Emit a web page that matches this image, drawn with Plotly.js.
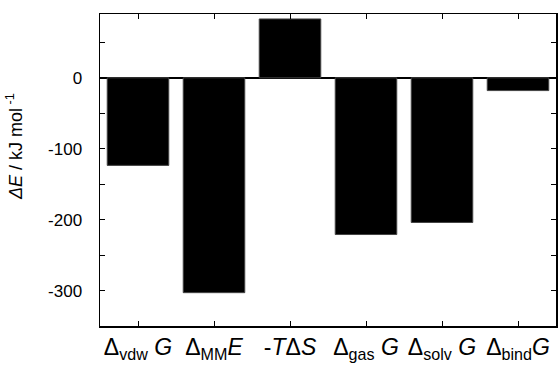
<!DOCTYPE html>
<html><head><meta charset="utf-8">
<script src="https://cdn.plot.ly/plotly-3.0.1.min.js"></script>
<style>html,body{margin:0;padding:0;background:#fff}#chart{width:558px;height:376px}</style>
</head><body><div id="chart"></div>
<script>
const categories = ["vdwG", "MME", "TdS", "gasG", "solvG", "bindG"];
const tickLabels = [
  "Δ<sub>vdw</sub> <i>G</i>",
  "Δ<sub>MM</sub><i>E</i>",
  "-<i>T</i>Δ<i>S</i>",
  "Δ<sub>gas</sub> <i>G</i>",
  "Δ<sub>solv</sub> <i>G</i>",
  "Δ<sub>bind</sub><i>G</i>"
];
const values = [-123.5, -303, 83, -221, -204, -18];
const yTickVals = [0, -100, -200, -300];
const yTickText = ["0", "-100", "-200", "-300"];

const font = "Liberation Sans, Arial, sans-serif";
const trace = {
  type: "bar",
  x: categories,
  y: values,
  width: 0.81,
  marker: {color: "#000", line: {color: "#444", width: 1}},
  hoverinfo: "none"
};
const layout = {
  width: 558, height: 376,
  margin: {l: 100, r: 2, t: 14, b: 49.5},
  paper_bgcolor: "#fff", plot_bgcolor: "#fff",
  showlegend: false,
  font: {family: font, color: "#000"},
  xaxis: {
    type: "category",
    range: [-0.5, 5.5],
    tickvals: categories,
    ticktext: tickLabels,
    ticks: "inside", ticklen: 5, tickwidth: 1, tickcolor: "#000",
    showline: true, linecolor: "#000", linewidth: 1.5, mirror: "ticks",
    showgrid: false, zeroline: false,
    tickfont: {family: font, size: 23, color: "#000"}
  },
  yaxis: {
    range: [-350, 90],
    tickvals: yTickVals,
    ticktext: yTickText,
    ticks: "inside", ticklen: 5, tickwidth: 1, tickcolor: "#000",
    minor: {dtick: 50, ticks: "inside", ticklen: 5, tickwidth: 1, tickcolor: "#000", showgrid: false},
    showline: true, linecolor: "#000", linewidth: 1.5, mirror: "ticks",
    showgrid: false,
    zeroline: true, zerolinecolor: "#000", zerolinewidth: 2,
    ticklabelstandoff: 13,
    tickfont: {family: font, size: 17, color: "#000"}
  },
  annotations: [{
    text: "<i>ΔE</i> / kJ mol<sup> -1</sup>",
    xref: "paper", yref: "paper",
    x: -0.186, y: 0.574,
    xanchor: "center", yanchor: "middle",
    textangle: -90, showarrow: false,
    font: {family: font, size: 18, color: "#000"}
  }]
};
Plotly.newPlot("chart", [trace], layout, {staticPlot: true, displayModeBar: false});
</script></body></html>
